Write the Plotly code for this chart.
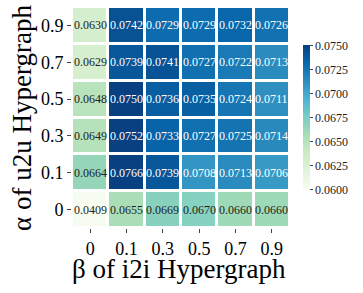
import plotly.graph_objects as go

beta_labels = ["0", "0.1", "0.3", "0.5", "0.7", "0.9"]
alpha_labels = ["0", "0.1", "0.3", "0.5", "0.7", "0.9"]
# rows ordered bottom (alpha=0) to top (alpha=0.9)
row_a0 = [0.0409, 0.0655, 0.0669, 0.0670, 0.0660, 0.0660]
row_a01 = [0.0664, 0.0766, 0.0739, 0.0708, 0.0713, 0.0706]
row_a03 = [0.0649, 0.0752, 0.0733, 0.0727, 0.0725, 0.0714]
row_a05 = [0.0648, 0.0750, 0.0736, 0.0735, 0.0724, 0.0711]
row_a07 = [0.0629, 0.0739, 0.0741, 0.0727, 0.0722, 0.0713]
row_a09 = [0.0630, 0.0742, 0.0729, 0.0729, 0.0732, 0.0726]
z = [row_a0, row_a01, row_a03, row_a05, row_a07, row_a09]

zmin, zmax = 0.0600, 0.0750
cbar_ticks = [0.0600, 0.0625, 0.0650, 0.0675, 0.0700, 0.0725, 0.0750]

gnbu = [[0.0, 'rgb(247,252,240)'], [0.125, 'rgb(224,243,219)'], [0.25, 'rgb(204,235,197)'],
        [0.375, 'rgb(168,221,181)'], [0.5, 'rgb(123,204,196)'], [0.625, 'rgb(78,179,211)'],
        [0.75, 'rgb(43,140,190)'], [0.875, 'rgb(8,104,172)'], [1.0, 'rgb(8,64,129)']]

xi = list(range(len(beta_labels)))
yi = list(range(len(alpha_labels)))

fig = go.Figure()
fig.add_trace(go.Heatmap(
    z=z, x=xi, y=yi, colorscale=gnbu, zmin=zmin, zmax=zmax,
    xgap=3, ygap=3,
    colorbar=dict(thickness=7, len=0.74, x=1.06, xanchor="left", xpad=0, y=0.5, yanchor="middle",
                  tickvals=cbar_ticks, ticktext=[f"{v:.4f}" for v in cbar_ticks],
                  ticks="outside", ticklen=3, outlinewidth=0,
                  tickfont=dict(family="Liberation Serif", size=12, color="#222")),
))

annotations = []
for i in yi:
    for j in xi:
        v = z[i][j]
        annotations.append(dict(x=j, y=i, xref="x", yref="y", text=f"{v:.4f}", showarrow=False,
                                font=dict(family="Liberation Serif", size=12,
                                          color="white" if v > 0.0685 else "#222")))

annotations.append(dict(x=0.49, y=-0.186, xref="paper", yref="paper", xanchor="center",
                        yanchor="middle", showarrow=False, text="β of i2i Hypergraph",
                        font=dict(family="Liberation Serif", size=27, color="black")))
annotations.append(dict(x=-0.232, y=0.5, xref="paper", yref="paper", xanchor="center",
                        yanchor="middle", showarrow=False, text="α of u2u Hypergraph",
                        textangle=-90,
                        font=dict(family="Liberation Serif", size=27, color="black")))

fig.update_layout(
    width=363, height=293,
    margin=dict(l=72, r=73, t=7, b=65),
    paper_bgcolor="white", plot_bgcolor="white",
    annotations=annotations,
    xaxis=dict(tickmode="array", tickvals=xi, ticktext=beta_labels, range=[-0.5, 5.5],
               automargin=False,
               ticks="outside", ticklen=4, tickcolor="#444", showgrid=False,
               zeroline=False, tickfont=dict(family="Liberation Serif", size=18, color="black")),
    yaxis=dict(tickmode="array", tickvals=yi, ticktext=alpha_labels, range=[-0.5, 5.5],
               automargin=False,
               ticks="outside", ticklen=4, tickcolor="#444", showgrid=False,
               zeroline=False, tickfont=dict(family="Liberation Serif", size=18, color="black")),
)

fig.write_html("out.html", config={"displayModeBar": False},
               post_script="document.body.style.margin='0';")
